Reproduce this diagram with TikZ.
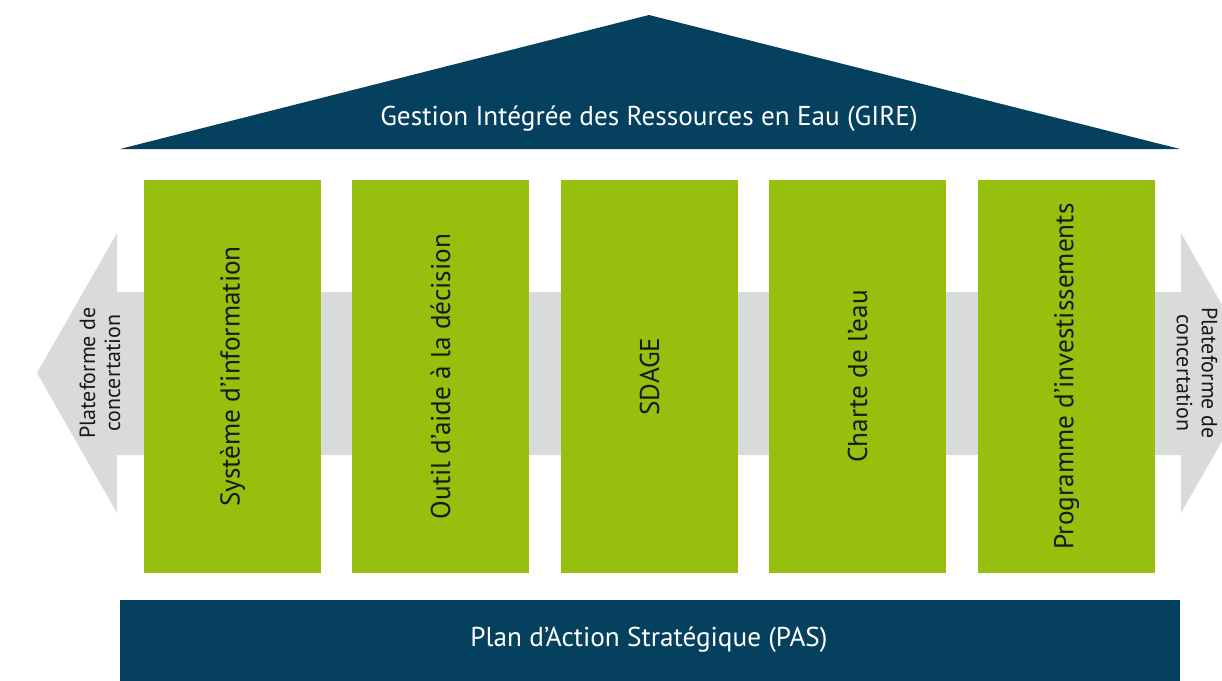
\documentclass[tikz,border=0pt]{standalone}
\usepackage{fontspec}
\setmainfont{PT Sans}
\definecolor{giredark}{HTML}{05415F}
\definecolor{giregreen}{HTML}{97BF0D}
\definecolor{giregrey}{HTML}{D9DADB}
\begin{document}
\begin{tikzpicture}
	[x=0.02cm,y=-0.02cm,
	pillar/.style={fill=giregreen,rotate=90,minimum width=7.86cm,minimum height=3.54cm,inner sep=0pt,text=black!90,font=\fontsize{15.5}{18}\selectfont},
	banner/.style={text=white,font=\fontsize{15.5}{18}\selectfont},
	side/.style={align=center,text=black!90,font=\fontsize{12.5}{14.3}\selectfont}]
    \clip (0,0) rectangle (1222,680);
    % roof and foundation
    \fill[giredark] (649,15) -- (1180,149) -- (120,149) -- cycle;
    \node[banner] (gire) at (649,119) {Gestion Intégrée des Ressources en Eau (GIRE)};
    \fill[giredark] (120,600) rectangle (1180,690);
    \node[banner] (pas) at (649,640) {Plan d’Action Stratégique (PAS)};
    % grey double arrow behind the pillars
    \fill[giregrey] (117,292) -- (117,233) -- (37,373) -- (117,513) -- (117,455)
        -- (1181,455) -- (1181,513) -- (1261,373) -- (1181,233) -- (1181,292) -- cycle;
    \node[side,rotate=90] (left) at (100,373) {Plateforme de\\concertation};
    \node[side,rotate=-90] (right) at (1197,373) {Plateforme de\\concertation};
    % pillars
    \node[pillar] (info) at (232.5,376.5) {Système d’information};
    \node[pillar] (outil) at (440.5,376.5) {Outil d’aide à la décision};
    \node[pillar] (sdage) at (649.5,376.5) {SDAGE};
    \node[pillar] (charte) at (857.5,376.5) {Charte de l’eau};
    \node[pillar] (prog) at (1066.5,376.5) {Programme d’investissements};
\end{tikzpicture}
\end{document}
